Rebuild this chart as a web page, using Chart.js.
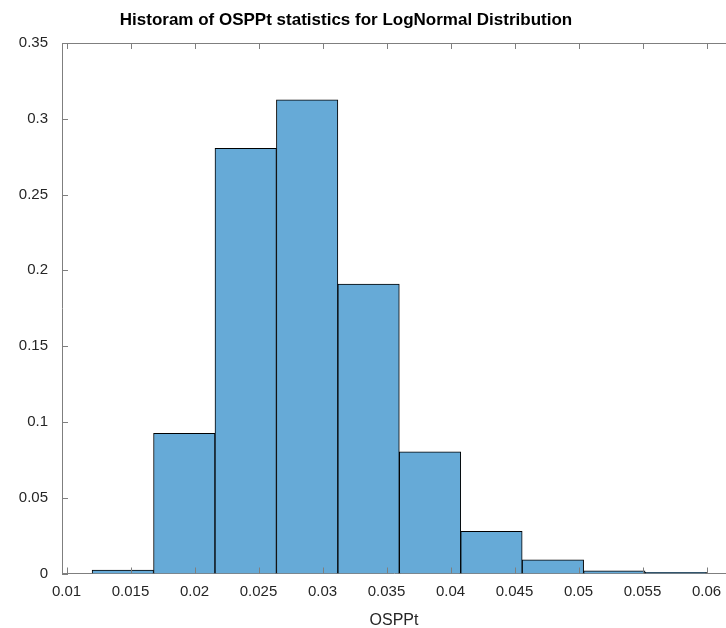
<!DOCTYPE html>
<html>
<head>
<meta charset="utf-8">
<script src="https://cdn.jsdelivr.net/npm/chart.js@4/dist/chart.umd.min.js"></script>
<style>
  html, body { margin: 0; padding: 0; background: #fff; }
  #wrap { position: relative; width: 726px; height: 628px; }
</style>
</head>
<body>
<div id="wrap"><canvas id="c" width="726" height="628"></canvas></div>
<script>
// ---- data ----
const chartTitle = "Historam of OSPPt statistics for LogNormal Distribution";
const xLabel = "OSPPt";
const binEdges = [0.0120, 0.0168, 0.0216, 0.0264, 0.0312, 0.0360, 0.0408, 0.0456, 0.0504, 0.0552, 0.0600];
const probabilities = [0.0023, 0.0925, 0.2805, 0.3125, 0.1910, 0.0803, 0.0278, 0.0091, 0.0018, 0.0008];
const xTicks = [0.01, 0.015, 0.02, 0.025, 0.03, 0.035, 0.04, 0.045, 0.05, 0.055, 0.06];
const yTicks = [0, 0.05, 0.1, 0.15, 0.2, 0.25, 0.3, 0.35];

// bar centres built from the bin edges
const points = probabilities.map((p, i) => ({ x: (binEdges[i] + binEdges[i + 1]) / 2, y: p }));

const AXIS_COLOR = '#7f7f7f';
const TEXT_COLOR = '#262626';
const FONT = "'Liberation Sans', Arial, sans-serif";

const frame = {
  id: 'frame',
  afterDatasetsDraw(chart) {
    const { ctx, chartArea: a, scales } = chart;
    ctx.save();
    ctx.strokeStyle = AXIS_COLOR;
    ctx.lineWidth = 1;
    ctx.beginPath();
    ctx.moveTo(a.left, a.top + 0.5);
    ctx.lineTo(a.right, a.top + 0.5);
    ctx.stroke();
    const tl = 6;
    scales.x.ticks.forEach(t => {
      const px = Math.round(scales.x.getPixelForValue(t.value)) + 0.5;
      ctx.beginPath();
      ctx.moveTo(px, a.bottom); ctx.lineTo(px, a.bottom - tl);
      ctx.moveTo(px, a.top); ctx.lineTo(px, a.top + tl);
      ctx.stroke();
    });
    scales.y.ticks.forEach(t => {
      const py = Math.round(scales.y.getPixelForValue(t.value)) + 0.5;
      ctx.beginPath();
      ctx.moveTo(a.left, py); ctx.lineTo(a.left + tl, py);
      ctx.stroke();
    });
    ctx.fillStyle = '#000';
    ctx.font = "bold 17px " + FONT;
    ctx.textAlign = 'center';
    ctx.textBaseline = 'middle';
    ctx.fillText(chartTitle, 346, 20);
    ctx.restore();
  }
};

new Chart(document.getElementById('c'), {
  type: 'bar',
  data: {
    datasets: [{
      data: points,
      backgroundColor: '#66aad7',
      borderColor: '#000000',
      borderWidth: 1,
      borderSkipped: 'bottom',
      barPercentage: 1.0,
      categoryPercentage: 1.0,
      grouped: true
    }]
  },
  options: {
    responsive: false,
    animation: false,
    layout: { padding: { top: 43, left: 0, right: 0, bottom: 0 } },
    plugins: { legend: { display: false }, tooltip: { enabled: false }, title: { display: false } },
    scales: {
      x: {
        type: 'linear',
        position: 'bottom',
        offset: false,
        min: 0.009648,
        max: 0.061523,
        afterBuildTicks: s => { s.ticks = xTicks.map(v => ({ value: v })); },
        afterFit: s => { s.height = 54.5; s.paddingLeft = 0; s.paddingRight = 0; },
        grid: { display: false, drawTicks: false, offset: false },
        border: { display: true, color: AXIS_COLOR, width: 1 },
        ticks: {
          color: TEXT_COLOR,
          font: { family: FONT, size: 15 },
          padding: 9,
          maxRotation: 0,
          autoSkip: false,
          callback: v => String(Number(v.toFixed(4)))
        },
        title: {
          display: true,
          text: xLabel,
          color: TEXT_COLOR,
          font: { family: FONT, size: 16 },
          padding: { top: 0, bottom: -2 }
        }
      },
      y: {
        min: 0,
        max: 0.35,
        afterBuildTicks: s => { s.ticks = yTicks.map(v => ({ value: v })); },
        afterFit: s => { s.width = 62; s.paddingTop = 0; s.paddingBottom = 0; },
        grid: { display: false, drawTicks: false },
        border: { display: true, color: AXIS_COLOR, width: 1 },
        ticks: {
          color: TEXT_COLOR,
          font: { family: FONT, size: 15 },
          padding: 14,
          autoSkip: false,
          callback: v => String(Number(v.toFixed(4)))
        }
      }
    }
  },
  plugins: [frame]
});
</script>
</body>
</html>
